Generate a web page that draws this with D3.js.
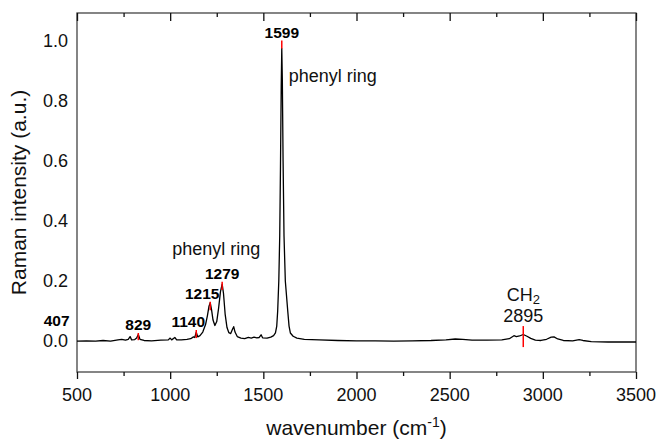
<!DOCTYPE html>
<html>
<head>
<meta charset="utf-8">
<script src="https://cdn.jsdelivr.net/npm/d3@7"></script>
<style>
  html, body { margin: 0; padding: 0; background: #fff; }
  svg { display: block; font-family: "Liberation Sans", Arial, sans-serif; }
  .tick-label { font-size: 18px; fill: #111; }
  .peak-label { font-size: 15.5px; font-weight: bold; fill: #000; }
  .note { font-size: 18px; fill: #111; }
  .axis-title { font-size: 21px; fill: #111; }
</style>
</head>
<body>
<div id="chart"></div>
<script>
// spectrum
const wavenumbers = [
  500, 550, 600, 640, 680, 720, 740, 760, 775, 785, 793, 810, 820, 829, 838, 860,
  900, 950, 990, 1000, 1008, 1025, 1035, 1060, 1090, 1110, 1125, 1132, 1140, 1148,
  1160, 1175, 1190, 1200, 1208, 1215, 1222, 1230, 1240, 1250, 1260, 1270, 1279,
  1286, 1295, 1305, 1315, 1325, 1335, 1341, 1348, 1360, 1380, 1400, 1420, 1435,
  1450, 1465, 1478, 1488, 1496, 1520, 1540, 1555, 1565, 1572, 1577, 1583, 1588,
  1592, 1596, 1599, 1602, 1606, 1611, 1618, 1631, 1638, 1645, 1660, 1680, 1720,
  1800, 1900, 2000, 2100, 2200, 2300, 2400, 2480, 2530, 2570, 2620, 2700, 2780,
  2820, 2845, 2858, 2875, 2895, 2915, 2935, 2960, 2990, 3020, 3045, 3060, 3080,
  3110, 3160, 3195, 3215, 3260, 3350, 3500
];
const intensity = [
  0.000, 0.001, 0.000, 0.002, 0.000, 0.004, 0.006, 0.003, 0.006, 0.015, 0.004, 0.005, 0.010, 0.022, 0.006, 0.002,
  0.001, 0.003, 0.004, 0.010, 0.004, 0.012, 0.004, 0.004, 0.006, 0.008, 0.014, 0.012, 0.030, 0.014,
  0.018, 0.030, 0.055, 0.085, 0.115, 0.128, 0.105, 0.070, 0.052, 0.065, 0.110, 0.165, 0.190,
  0.160, 0.090, 0.045, 0.028, 0.025, 0.040, 0.048, 0.030, 0.015, 0.010, 0.008, 0.012, 0.010,
  0.013, 0.011, 0.012, 0.021, 0.011, 0.010, 0.013, 0.018, 0.027, 0.050, 0.100, 0.200, 0.350,
  0.580, 0.850, 0.975, 0.870, 0.600, 0.350, 0.200, 0.100, 0.050, 0.027, 0.016, 0.010, 0.006,
  0.004, 0.002, 0.001, 0.001, 0.000, 0.001, 0.002, 0.004, 0.007, 0.006, 0.003, 0.003, 0.004,
  0.008, 0.018, 0.015, 0.017, 0.022, 0.016, 0.009, 0.003, 0.002, 0.006, 0.013, 0.014, 0.007,
  0.002, 0.001, 0.005, 0.002, -0.002, -0.003, -0.003
];

// red peak markers: position, top and bottom of the stroke
const markerPos = [829, 1140, 1215, 1279, 1599, 2895];
const markerTop = [0.027, 0.037, 0.131, 0.198, 1.001, 0.05];
const markerBottom = [0.003, 0.010, 0.103, 0.170, 0.975, -0.02];

const xTicks = [500, 1000, 1500, 2000, 2500, 3000, 3500];
const xMinorTicks = [750, 1250, 1750, 2250, 2750, 3250];
const yTicks = [0.0, 0.2, 0.4, 0.6, 0.8, 1.0];

const W = 659, H = 439;
const margin = { top: 13, right: 23, bottom: 67, left: 77 };
const width = W - margin.left - margin.right;
const height = H - margin.top - margin.bottom;

const svg = d3.select('#chart').append('svg')
  .attr('width', W)
  .attr('height', H);

const x = d3.scaleLinear().domain([500, 3500]).range([margin.left, margin.left + width]);
const y = d3.scaleLinear().domain([-0.103, 1.093]).range([margin.top + height, margin.top]);

const spectrum = wavenumbers.map((w, i) => ({ w: w, v: intensity[i] }));

// frame
svg.append('rect')
  .attr('x', margin.left)
  .attr('y', margin.top)
  .attr('width', width)
  .attr('height', height)
  .attr('fill', 'none')
  .attr('stroke', '#444')
  .attr('stroke-width', 1.3);

// bottom axis, ticks pointing outward
const bottomAxis = svg.append('g')
  .attr('transform', `translate(0,${margin.top + height})`);
bottomAxis.call(d3.axisBottom(x).tickValues(xTicks).tickSize(7).tickFormat(''));
bottomAxis.append('g').call(d3.axisBottom(x).tickValues(xMinorTicks).tickSize(4).tickFormat(''));
bottomAxis.selectAll('.domain').remove();
bottomAxis.selectAll('line').attr('stroke', '#111').attr('stroke-width', 1.3);

// top axis, ticks pointing inside
const topAxis = svg.append('g')
  .attr('transform', `translate(0,${margin.top})`);
topAxis.call(d3.axisBottom(x).tickValues(xTicks).tickSize(8).tickFormat(''));
topAxis.append('g').call(d3.axisBottom(x).tickValues(xMinorTicks).tickSize(4).tickFormat(''));
topAxis.selectAll('.domain').remove();
topAxis.selectAll('line').attr('stroke', '#111').attr('stroke-width', 1.3);

// tick labels
svg.append('g').selectAll('text')
  .data(xTicks)
  .enter().append('text')
  .attr('class', 'tick-label')
  .attr('x', d => x(d))
  .attr('y', margin.top + height + 29)
  .attr('text-anchor', 'middle')
  .text(d => d);

svg.append('g').selectAll('text')
  .data(yTicks)
  .enter().append('text')
  .attr('class', 'tick-label')
  .attr('x', margin.left - 9)
  .attr('y', d => y(d))
  .attr('dy', '0.35em')
  .attr('text-anchor', 'end')
  .text(d => d3.format('.1f')(d));

// axis titles
const xTitle = svg.append('text')
  .attr('class', 'axis-title')
  .attr('x', margin.left + width / 2)
  .attr('y', 435)
  .attr('text-anchor', 'middle');
xTitle.append('tspan').text('wavenumber (cm');
xTitle.append('tspan').attr('font-size', '14px').attr('dy', -8).text('-1');
xTitle.append('tspan').attr('dy', 8).text(')');

svg.append('text')
  .attr('class', 'axis-title')
  .attr('transform', `translate(25.5,${margin.top + height / 2}) rotate(-90)`)
  .attr('text-anchor', 'middle')
  .text('Raman intensity (a.u.)');

// spectrum line
const line = d3.line()
  .x(d => x(d.w))
  .y(d => y(d.v));

svg.append('path')
  .datum(spectrum)
  .attr('fill', 'none')
  .attr('stroke', '#000')
  .attr('stroke-width', 1.3)
  .attr('stroke-linejoin', 'round')
  .attr('d', line);

// red markers
svg.append('g').selectAll('line')
  .data(markerPos)
  .enter().append('line')
  .attr('x1', d => x(d))
  .attr('x2', d => x(d))
  .attr('y1', (d, i) => y(markerTop[i]))
  .attr('y2', (d, i) => y(markerBottom[i]))
  .attr('stroke', '#f00')
  .attr('stroke-width', 1.5);

// bold peak labels
const peakLabels = [
  { w: 829, dx: 0 },
  { w: 1140, dx: -8 },
  { w: 1215, dx: -8 },
  { w: 1279, dx: 0 },
  { w: 1599, dx: 0 }
];
svg.append('g').selectAll('text')
  .data(peakLabels)
  .enter().append('text')
  .attr('class', 'peak-label')
  .attr('x', d => x(d.w) + d.dx)
  .attr('y', d => y(markerTop[markerPos.indexOf(d.w)]) - 3)
  .attr('text-anchor', 'middle')
  .text(d => d.w);

// 407 sits below the axis range, so it is written left of the frame
svg.append('text')
  .attr('class', 'peak-label')
  .attr('x', x(407) - 3)
  .attr('y', y(0.05))
  .attr('text-anchor', 'middle')
  .text('407');

// band notes
svg.append('text')
  .attr('class', 'note')
  .attr('x', x(1599) + 7)
  .attr('y', y(0.863))
  .text('phenyl ring');

svg.append('text')
  .attr('class', 'note')
  .attr('x', x(1247))
  .attr('y', y(0.287))
  .attr('text-anchor', 'middle')
  .text('phenyl ring');

const ch2 = svg.append('text')
  .attr('class', 'note')
  .attr('font-size', '17px')
  .attr('x', x(2895))
  .attr('y', 301)
  .attr('text-anchor', 'middle');
ch2.append('tspan').text('CH');
ch2.append('tspan').attr('font-size', '13px').attr('dy', 3).text('2');

svg.append('text')
  .attr('class', 'note')
  .attr('font-size', '16px')
  .attr('x', x(2895))
  .attr('y', 322)
  .attr('text-anchor', 'middle')
  .text('2895');
</script>
</body>
</html>
